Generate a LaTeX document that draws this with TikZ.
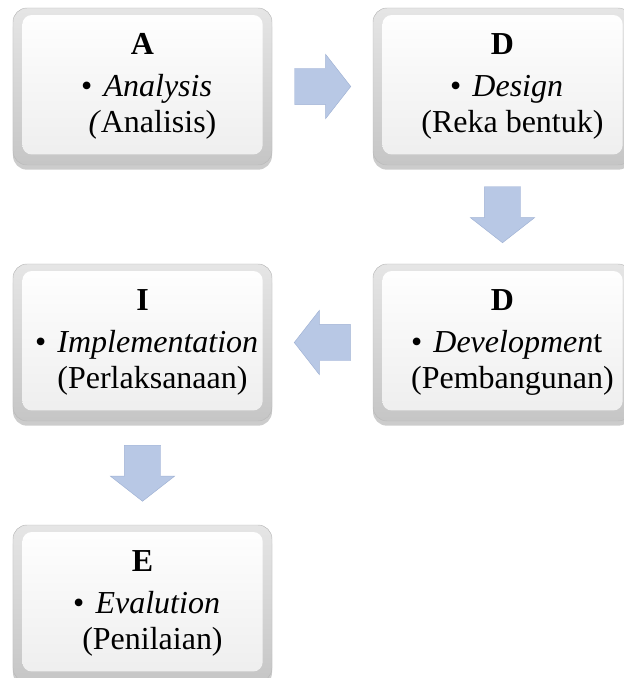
\documentclass[tikz,border=0pt]{standalone}
\usepackage{fontspec}
\setmainfont{Liberation Serif}
\usetikzlibrary{shapes.arrows,shadows,calc}

\definecolor{arrowblue}{RGB}{184,200,229}
\definecolor{arrowedge}{RGB}{160,178,212}

\tikzset{
    stage/.style={rectangle, rounded corners=12pt, minimum width=7.77cm, minimum height=4.71cm,
        draw=gray!55, top color=gray!20, bottom color=gray!45,
        drop shadow={shadow xshift=0pt, shadow yshift=-4pt, opacity=0.4},
        align=center, font=\fontsize{27.3}{31}\selectfont,
        path picture={\shade[top color=white, bottom color=gray!14, rounded corners=8pt]
            ($(path picture bounding box.south west)+(8pt,9pt)$) rectangle
            ($(path picture bounding box.north east)+(-8pt,-6pt)$);}},
    flow/.style={single arrow, draw=arrowedge, fill=arrowblue, inner xsep=0pt, inner ysep=0.54cm,
        minimum height=1.68cm, single arrow head extend=0.42cm,
        single arrow tip angle=104, anchor=tail}
}
\newcommand{\bul}{\hspace*{7pt}\textbullet\hspace{0.35em}}
\newcommand{\mly}[1]{\hspace*{17pt}#1}

\begin{document}
\begin{tikzpicture}[x=0.03cm, y=-0.03cm]
    \useasboundingbox (0,0) rectangle (624,678);
    \node[stage] at (142.5,86.5) (ana) {\textbf{A}\\[5pt]\bul\textit{Analysis}\\\mly{\textit{(}Analisis)}};
    \node[stage] at (502.5,86.5) (des) {\textbf{D}\\[5pt]\bul\textit{Design}\\\mly{(Reka bentuk)}};
    \node[stage] at (502.5,342.5) (dev) {\textbf{D}\\[5pt]\bul\textit{Developmen}t\\\mly{(Pembangunan)}};
    \node[stage] at (142.5,342.5) (imp) {\textbf{I}\\[5pt]\bul\textit{Implementation}\\\mly{(Perlaksanaan)}};
    \node[stage] at (142.5,603.5) (eva) {\textbf{E}\\[5pt]\bul\textit{Evalution}\\\mly{(Penilaian)}};
    \node[flow] at ($(ana.east)!0.5!(des.west)+(-28,0)$) (ad) {};
    \node[flow, rotate=270] at ($(des.south)!0.5!(dev.north)+(0,-28)$) (dd) {};
    \node[flow, rotate=180] at ($(dev.west)!0.5!(imp.east)+(28,0)$) (di) {};
    \node[flow, rotate=270] at ($(imp.south)!0.5!(eva.north)+(0,-28)$) (ie) {};
\end{tikzpicture}
\end{document}
